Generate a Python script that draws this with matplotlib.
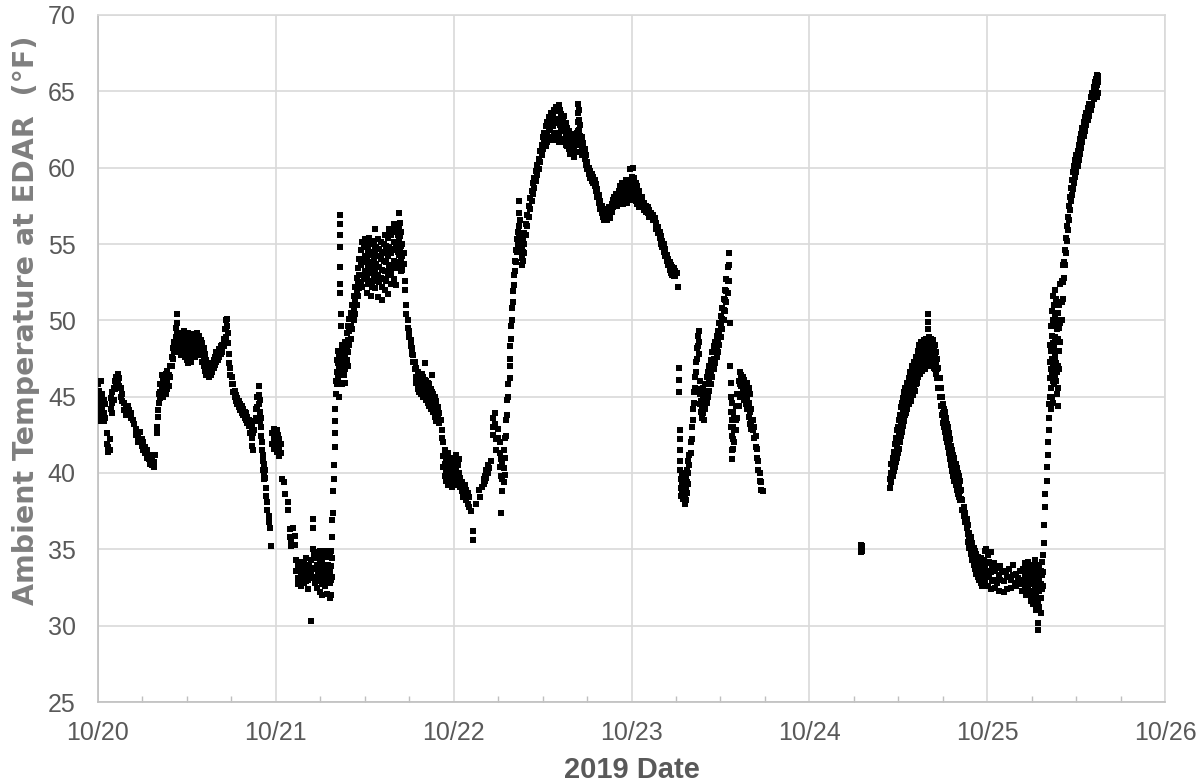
import matplotlib
matplotlib.use("Agg")
import matplotlib.pyplot as plt
from matplotlib.ticker import FixedLocator, MultipleLocator

# Each row: (days since 10/20 00:00, temperature readings in °F logged around that time)
oct20 = [
    (0.000, 45.8, 45.0, 44.2, 43.6), (0.008, 45.4, 44.6, 43.8, 43.4), (0.016, 46.0, 44.9, 44.0, 43.5),
    (0.024, 45.2, 44.3, 43.7), (0.032, 44.8, 43.9, 43.4), (0.040, 44.5, 43.6),
    (0.050, 42.6, 41.9), (0.058, 41.7, 41.4), (0.066, 42.2, 41.5),
    (0.072, 44.9, 44.2), (0.080, 45.3, 44.6, 43.9), (0.088, 45.6, 44.8), (0.096, 46.0, 45.5),
    (0.104, 46.3, 45.8), (0.112, 46.5, 46.0, 45.6), (0.120, 46.2, 45.7), (0.128, 45.6, 45.0),
    (0.136, 45.2, 44.7), (0.146, 44.6, 44.1), (0.156, 44.3, 43.8), (0.166, 44.4, 44.0),
    (0.176, 44.1), (0.186, 43.9, 43.6), (0.196, 43.5), (0.205, 43.2),
    (0.215, 42.9, 42.5), (0.225, 42.4, 42.0), (0.235, 42.7, 42.1), (0.245, 42.2, 41.8),
    (0.255, 42.0, 41.5), (0.265, 41.7, 41.3), (0.275, 41.5, 41.0), (0.285, 41.2, 40.9),
    (0.295, 41.0, 40.6), (0.305, 40.9, 40.5), (0.315, 40.7, 40.4), (0.322, 41.2),
    (0.330, 43.0, 42.6), (0.336, 44.1, 43.7), (0.342, 45.2, 44.6), (0.350, 45.8, 45.3, 44.9),
    (0.358, 46.4, 45.6, 45.1), (0.366, 46.2, 45.5, 45.0), (0.374, 46.0, 45.4),
    (0.382, 46.5, 45.8, 45.2), (0.390, 46.7, 46.0, 45.5), (0.398, 46.4, 45.7),
    (0.406, 47.0, 46.3), (0.414, 47.6, 47.0), (0.422, 48.2, 47.5), (0.430, 48.6, 48.0),
    (0.436, 49.5, 48.9), (0.443, 50.4, 49.8, 49.2, 48.6, 48.0), (0.450, 49.0, 48.4, 47.9),
    (0.458, 49.2, 48.6, 48.0), (0.466, 48.8, 48.2, 47.7), (0.474, 49.0, 48.5, 48.1),
    (0.482, 49.3, 48.7, 48.0), (0.490, 48.9, 48.3, 47.6), (0.498, 48.6, 48.0, 47.4),
    (0.506, 49.2, 48.5, 47.8, 47.2), (0.514, 49.0, 48.3, 47.5), (0.522, 48.7, 48.1, 47.3),
    (0.530, 48.9, 48.4, 47.8), (0.538, 49.1, 48.6, 48.0), (0.546, 48.8, 48.2, 47.6),
    (0.554, 49.2, 48.6, 48.0), (0.562, 48.9, 48.3, 47.7), (0.570, 49.0, 48.4, 47.9),
    (0.578, 48.7, 48.1), (0.586, 48.5, 47.9, 47.3), (0.594, 48.2, 47.6, 47.0),
    (0.602, 47.8, 47.2, 46.7), (0.610, 47.4, 46.8, 46.4), (0.618, 47.0, 46.5),
    (0.626, 46.8, 46.3), (0.634, 47.0, 46.4), (0.642, 47.2, 46.6), (0.650, 47.4, 46.9),
    (0.658, 47.6, 47.1), (0.666, 47.9, 47.3), (0.674, 47.8, 47.4), (0.682, 48.1, 47.6),
    (0.690, 48.3, 47.8), (0.698, 48.4, 47.9), (0.706, 48.8, 48.3), (0.714, 49.4, 48.8),
    (0.720, 50.0, 49.4, 48.9), (0.726, 50.1, 49.6), (0.732, 49.2, 48.5), (0.738, 47.8, 47.2),
    (0.744, 46.9, 46.4), (0.752, 46.3, 45.8), (0.760, 45.8, 45.3), (0.768, 45.4, 45.0),
    (0.776, 45.1, 44.7), (0.784, 44.9, 44.5), (0.792, 44.7, 44.3), (0.800, 44.5, 44.1),
    (0.808, 44.4, 43.9), (0.816, 44.2, 43.8), (0.824, 44.0, 43.6), (0.832, 43.9, 43.5),
    (0.840, 43.7, 43.3), (0.848, 43.5, 43.1), (0.856, 43.2, 42.6), (0.864, 43.0, 42.3, 41.8),
    (0.872, 42.6, 41.5), (0.880, 43.4, 42.8), (0.888, 44.2, 43.6), (0.896, 45.0, 44.3),
    (0.904, 45.7, 45.1, 44.5), (0.910, 44.8, 44.0, 43.4), (0.916, 43.6, 43.0, 42.4),
    (0.922, 42.0, 41.5), (0.928, 41.2, 40.8, 40.2), (0.934, 40.6, 40.0, 39.6),
    (0.940, 40.2, 39.7), (0.946, 39.0, 38.5), (0.952, 38.1, 37.6), (0.960, 37.2, 36.8),
    (0.968, 36.4), (0.975, 35.2), (0.980, 42.6, 41.9), (0.988, 42.9, 42.2, 41.6),
    (0.996, 42.4, 41.8),
]

oct21 = [
    (1.004, 42.8, 42.0, 41.4), (1.012, 42.5, 41.7), (1.020, 42.2, 41.5, 41.1), (1.028, 41.9, 41.3),
    (1.036, 39.6), (1.044, 39.4), (1.052, 38.6), (1.068, 38.1, 37.6), (1.078, 36.3, 35.8),
    (1.088, 35.5, 35.2), (1.098, 36.4), (1.106, 35.9, 35.3), (1.116, 34.3, 33.6),
    (1.124, 34.0, 33.1, 32.7), (1.132, 33.8, 33.0), (1.140, 34.2, 33.4, 32.6), (1.148, 33.6, 32.9),
    (1.156, 34.1, 33.3, 32.8), (1.164, 33.9, 33.2), (1.172, 34.4, 33.5, 32.9),
    (1.180, 33.7, 33.0, 32.4), (1.188, 34.0, 33.2), (1.196, 30.3), (1.200, 34.3, 33.4),
    (1.208, 37.0, 36.4, 35.0), (1.214, 34.6, 33.8, 33.1), (1.222, 34.4, 33.7, 32.8),
    (1.230, 34.8, 34.0, 33.2, 32.5), (1.238, 34.5, 33.6, 32.9), (1.246, 34.9, 34.1, 33.4, 32.2),
    (1.254, 34.6, 33.9, 33.0), (1.262, 34.3, 33.5, 32.7, 32.0), (1.270, 34.7, 33.8, 33.1),
    (1.278, 34.9, 34.0, 33.3, 32.6), (1.286, 34.5, 33.7, 32.9, 32.1), (1.294, 34.8, 34.0, 33.2),
    (1.302, 34.6, 33.6, 32.8, 31.8), (1.310, 34.9, 33.9, 33.0, 32.0),
    (1.316, 36.9, 35.8, 34.4, 33.2), (1.322, 38.8, 37.4), (1.326, 40.5, 39.6),
    (1.330, 42.6, 41.7), (1.334, 44.2, 43.4), (1.338, 46.0, 45.2), (1.343, 47.4, 46.6, 45.8),
    (1.350, 48.0, 47.2, 46.3), (1.356, 47.6, 46.8, 45.9, 45.0),
    (1.362, 56.9, 56.3, 55.6, 54.8, 53.5, 52.4, 51.8), (1.368, 50.4, 49.6, 47.8, 46.9),
    (1.374, 48.4, 47.6, 46.7, 45.8), (1.382, 48.1, 47.2, 46.4), (1.390, 48.6, 47.7, 46.8, 45.9),
    (1.398, 49.2, 48.3, 47.4), (1.406, 49.6, 48.7, 47.9, 47.0), (1.414, 50.1, 49.3, 48.4),
    (1.422, 50.5, 49.6, 48.8), (1.430, 51.0, 50.2, 49.4), (1.438, 51.6, 50.8, 50.0),
    (1.446, 52.2, 51.3, 50.4), (1.454, 52.8, 51.9, 51.0), (1.462, 53.4, 52.5, 51.6),
    (1.470, 54.0, 53.0, 52.1), (1.478, 54.6, 53.6, 52.5), (1.486, 55.1, 54.0, 53.0, 52.2),
    (1.494, 54.8, 53.8, 52.9), (1.502, 55.3, 54.2, 53.2), (1.510, 55.0, 53.9, 52.7, 51.8),
    (1.518, 54.6, 53.5, 52.4), (1.526, 55.4, 54.3, 53.1), (1.534, 55.0, 53.8, 52.6, 51.6),
    (1.542, 54.5, 53.4, 52.2), (1.550, 55.2, 54.1, 53.0), (1.558, 56.0, 54.6, 53.3, 52.1),
    (1.566, 54.8, 53.7, 52.6), (1.574, 55.3, 54.2, 53.0, 51.5), (1.582, 54.7, 53.5, 52.5),
    (1.590, 55.1, 54.0, 52.8), (1.598, 54.4, 53.3, 52.2, 51.3), (1.606, 55.0, 53.9, 52.7),
    (1.614, 55.6, 54.5, 53.2, 52.0), (1.622, 54.9, 53.8, 52.6), (1.630, 55.4, 54.2, 53.0, 51.7),
    (1.638, 56.0, 54.8, 53.5), (1.646, 55.6, 54.4, 53.1, 52.4), (1.654, 55.9, 54.7, 53.6),
    (1.662, 56.3, 55.1, 53.9, 52.7), (1.670, 55.8, 54.6, 53.4), (1.678, 56.2, 55.0, 53.8, 52.3),
    (1.686, 55.6, 54.5, 53.5), (1.694, 57.0, 56.1, 55.2, 54.3), (1.700, 56.4, 55.5, 54.6, 53.6),
    (1.706, 55.8, 54.9, 54.0, 53.2), (1.712, 55.0, 54.2, 53.3), (1.718, 54.4, 53.7),
    (1.726, 52.6, 52.0), (1.734, 51.0, 50.4), (1.742, 50.0, 49.5), (1.750, 49.3, 48.9),
    (1.758, 48.7, 48.3), (1.766, 48.2, 47.8), (1.774, 47.7, 47.3), (1.782, 47.3, 46.8),
    (1.790, 46.9, 46.3, 45.9), (1.798, 46.6, 46.0, 45.5), (1.806, 46.4, 45.8, 45.3),
    (1.814, 46.2, 45.7, 45.2), (1.822, 46.5, 45.9, 45.3), (1.830, 46.3, 45.6, 45.0),
    (1.838, 47.2, 46.1, 45.5), (1.846, 46.0, 45.4, 44.8), (1.854, 45.9, 45.2, 44.6),
    (1.862, 45.8, 45.1, 44.4), (1.870, 45.5, 44.8, 44.2), (1.878, 46.4, 45.3, 44.5),
    (1.886, 45.2, 44.6, 44.0), (1.894, 45.0, 44.3, 43.7), (1.902, 44.7, 44.0, 43.4),
    (1.910, 44.3, 43.7), (1.918, 43.9, 43.3), (1.926, 43.5), (1.934, 42.8, 42.3),
    (1.942, 42.0, 41.1, 40.4), (1.950, 41.5, 40.6, 39.8), (1.958, 40.9, 40.2, 39.5),
    (1.966, 41.3, 40.5, 39.8, 39.2), (1.974, 40.8, 40.0, 39.4), (1.982, 41.0, 40.3, 39.6),
    (1.990, 40.6, 39.9, 39.1), (1.998, 40.9, 40.2, 39.5),
]

oct22 = [
    (2.006, 40.8, 40.1, 39.4), (2.014, 41.2, 40.3, 39.7), (2.022, 40.5, 39.8, 39.2),
    (2.030, 40.9, 40.0, 39.3), (2.038, 39.7, 39.1), (2.046, 39.4, 38.8), (2.054, 39.0, 38.4),
    (2.062, 39.2, 38.6), (2.070, 38.9, 38.2), (2.078, 38.7, 38.0), (2.086, 38.4, 37.8),
    (2.096, 37.5), (2.110, 36.2, 35.6), (2.128, 38.0), (2.140, 38.9), (2.150, 38.4),
    (2.160, 39.1), (2.168, 39.6, 39.3), (2.176, 39.8, 39.5), (2.184, 40.2, 39.7),
    (2.192, 40.5, 40.0), (2.200, 40.3), (2.210, 40.8), (2.222, 43.6, 43.0, 42.5),
    (2.230, 43.9, 43.2), (2.240, 42.2, 41.5), (2.248, 42.9, 42.3), (2.258, 42.0, 41.3, 40.4),
    (2.266, 40.9, 39.8, 37.4), (2.274, 40.6, 39.6, 38.8), (2.282, 41.5, 40.3, 39.4),
    (2.290, 42.3, 41.0, 39.9), (2.296, 43.5, 42.4), (2.302, 44.8, 43.8), (2.308, 45.8, 45.0),
    (2.314, 47.0, 46.2), (2.319, 48.3, 47.5), (2.324, 49.6, 48.8), (2.329, 50.8, 50.0),
    (2.334, 51.9, 51.2), (2.339, 53.0, 52.3), (2.344, 53.9, 53.2), (2.350, 54.6, 53.8),
    (2.356, 55.3, 54.5), (2.362, 55.8, 55.0), (2.368, 57.8, 57.0, 56.2, 55.5),
    (2.374, 56.6, 55.6, 54.8), (2.382, 54.8, 54.1, 53.6), (2.390, 55.2, 54.5, 53.9),
    (2.398, 55.7, 55.0, 54.4), (2.406, 56.3, 55.6), (2.414, 56.9, 56.2), (2.422, 57.5, 56.8),
    (2.430, 58.0, 57.3), (2.438, 58.5, 57.8), (2.446, 59.0, 58.3), (2.454, 59.3, 58.7),
    (2.462, 59.8, 59.1), (2.470, 60.2, 59.5), (2.478, 60.6, 59.9), (2.486, 61.1, 60.4),
    (2.494, 61.5, 60.8), (2.502, 62.0, 61.2), (2.510, 62.3, 61.6), (2.518, 62.7, 62.0, 61.4),
    (2.526, 63.0, 62.3, 61.7), (2.534, 63.3, 62.6, 61.9), (2.542, 63.2, 62.5, 61.8),
    (2.550, 63.6, 62.8, 62.0), (2.558, 63.5, 62.7, 61.9), (2.566, 63.8, 62.9, 62.1),
    (2.574, 64.0, 63.2, 62.3, 61.8), (2.582, 63.7, 62.9, 62.0), (2.590, 64.1, 63.1, 62.2, 61.7),
    (2.598, 63.8, 62.8, 61.9), (2.606, 63.5, 62.6, 61.8), (2.614, 63.2, 62.4, 61.7),
    (2.622, 63.4, 62.5, 61.9), (2.630, 62.9, 62.2, 61.5), (2.638, 62.6, 62.0, 61.4),
    (2.646, 62.4, 61.8, 61.2), (2.654, 62.0, 61.5, 60.9), (2.662, 61.8, 61.2),
    (2.670, 62.2, 61.5, 60.9), (2.678, 61.9, 61.2, 60.7), (2.686, 61.6, 61.0),
    (2.694, 62.3, 61.7, 61.0), (2.700, 64.2, 63.6, 63.0, 62.4), (2.706, 63.8, 63.1, 62.5),
    (2.712, 62.8, 62.1, 61.5), (2.720, 62.0, 61.4, 60.8), (2.728, 61.6, 61.0),
    (2.736, 61.2, 60.6), (2.744, 60.8, 60.2), (2.752, 60.4, 59.9), (2.760, 60.0, 59.6),
    (2.768, 59.8, 59.3), (2.776, 59.6, 59.1), (2.784, 59.4, 59.0), (2.792, 59.2, 58.8),
    (2.800, 58.9, 58.5), (2.808, 58.6, 58.1), (2.816, 58.2, 57.7), (2.824, 57.8, 57.3),
    (2.832, 57.5, 57.0), (2.840, 57.2, 56.8), (2.848, 57.0, 56.6), (2.856, 57.3, 56.8),
    (2.864, 57.1, 56.6), (2.872, 57.4, 56.9), (2.880, 57.2, 56.7), (2.888, 57.6, 57.1),
    (2.896, 57.9, 57.4), (2.904, 58.1, 57.6), (2.912, 58.3, 57.8), (2.920, 58.0, 57.5),
    (2.928, 58.5, 58.0, 57.6), (2.936, 58.8, 58.2, 57.7), (2.944, 59.0, 58.4, 57.9),
    (2.952, 58.7, 58.1, 57.6), (2.960, 58.9, 58.3, 57.8), (2.968, 59.2, 58.6, 58.0),
    (2.976, 58.8, 58.2, 57.7), (2.984, 59.1, 58.5, 57.9), (2.992, 59.9, 59.0, 58.3),
]

oct23 = [
    (3.000, 59.4, 58.7, 58.1), (3.008, 60.0, 59.2, 58.5, 57.9), (3.016, 59.3, 58.6, 58.0),
    (3.024, 59.0, 58.4, 57.8), (3.032, 58.8, 58.2, 57.6), (3.040, 58.5, 57.9, 57.4),
    (3.050, 58.0, 57.5), (3.060, 58.1, 57.6), (3.070, 57.7, 57.2), (3.080, 57.5, 57.1),
    (3.090, 57.4, 57.0), (3.100, 57.2, 56.8), (3.110, 57.0), (3.120, 56.9, 56.6),
    (3.130, 56.7), (3.140, 56.4, 56.0), (3.150, 56.1, 55.7), (3.158, 55.8, 55.4),
    (3.166, 55.5, 55.0), (3.174, 55.2, 54.8), (3.182, 55.0, 54.5), (3.190, 54.7, 54.2),
    (3.198, 54.3, 53.9), (3.206, 54.0, 53.6), (3.214, 53.8, 53.3), (3.222, 53.6, 53.1),
    (3.230, 53.5, 53.0), (3.238, 53.4, 52.9), (3.246, 53.2, 52.9), (3.254, 53.1),
    (3.264, 52.2), (3.268, 46.9, 46.1, 45.3), (3.272, 42.8, 42.2, 41.5, 40.8, 40.2),
    (3.278, 39.6, 39.0, 38.5), (3.284, 40.0, 39.3, 38.7), (3.290, 39.5, 38.9, 38.3),
    (3.296, 39.8, 39.1, 38.4), (3.302, 39.2, 38.6, 38.0), (3.308, 39.6, 38.9, 38.2),
    (3.314, 40.2, 39.4, 38.7), (3.320, 40.8, 40.0, 39.3), (3.326, 41.2, 40.5),
    (3.332, 42.0, 41.3), (3.338, 43.0, 42.2), (3.344, 44.2, 43.5), (3.350, 45.3, 44.6),
    (3.356, 46.3, 45.6), (3.362, 47.3, 46.6), (3.368, 48.2, 47.5), (3.374, 49.0, 48.3),
    (3.380, 49.3, 48.6, 47.8), (3.386, 46.0, 45.2, 44.5), (3.392, 45.5, 44.7, 44.0),
    (3.398, 45.2, 44.4, 43.6), (3.404, 45.6, 44.8, 43.9), (3.410, 45.3, 44.5, 43.5),
    (3.416, 45.8, 45.0, 44.2), (3.422, 46.3, 45.4, 44.6), (3.430, 46.6, 45.8, 45.0),
    (3.438, 47.0, 46.2, 45.4), (3.446, 47.4, 46.6, 45.8), (3.454, 47.9, 47.1, 46.3),
    (3.462, 48.3, 47.5, 46.8), (3.470, 48.6, 47.9, 47.2), (3.478, 49.0, 48.3, 47.6),
    (3.486, 49.3, 48.6, 47.9), (3.494, 49.8, 49.1, 48.4), (3.502, 50.3, 49.6, 48.9),
    (3.510, 50.8, 50.1, 49.4), (3.518, 51.4, 50.7, 50.0), (3.526, 52.0, 51.3, 50.6),
    (3.534, 52.7, 51.9, 51.2), (3.542, 53.5, 52.6, 51.8), (3.548, 54.4, 53.6, 52.6),
    (3.554, 49.8, 47.0), (3.560, 45.9, 45.0, 44.0, 43.0), (3.566, 44.6, 43.5, 42.4, 41.5, 40.9),
    (3.572, 44.0, 43.0, 42.2, 41.6), (3.578, 43.6, 42.8, 42.0), (3.586, 44.4, 43.5, 42.8),
    (3.594, 45.2, 44.4, 43.6), (3.602, 46.0, 45.2, 44.4), (3.610, 46.6, 45.8, 45.0),
    (3.618, 46.4, 45.7, 45.1), (3.626, 46.3, 45.6, 45.0), (3.634, 46.1, 45.5, 44.8),
    (3.642, 45.8, 45.2, 44.5), (3.650, 45.9, 45.0, 44.2), (3.658, 45.6, 44.6, 43.7),
    (3.666, 45.2, 44.0, 43.2), (3.674, 44.2, 43.4, 42.9), (3.682, 43.5, 42.8),
    (3.690, 43.0, 42.3), (3.698, 42.4, 41.7), (3.706, 41.6, 41.0), (3.714, 40.8, 40.2),
    (3.722, 40.0, 39.5), (3.730, 39.4, 38.9), (3.738, 38.8),
]

oct24 = [
    (4.292, 35.3, 35.0, 34.8), (4.298, 35.2, 34.9),
    (4.456, 39.0, 39.6), (4.462, 40.6, 40.0, 39.4), (4.468, 41.0, 40.3, 39.8),
    (4.474, 41.4, 40.7, 40.1), (4.480, 41.9, 41.0, 40.4), (4.486, 42.3, 41.4, 40.7),
    (4.492, 42.8, 41.8, 41.0), (4.498, 43.0, 42.1, 41.3), (4.504, 43.5, 42.5, 41.6),
    (4.510, 43.8, 42.9, 42.0), (4.516, 44.3, 43.3, 42.4), (4.522, 44.6, 43.6, 42.7),
    (4.528, 44.9, 44.0, 43.1), (4.534, 45.3, 44.4, 43.4), (4.540, 45.6, 44.7, 43.8),
    (4.546, 45.4, 44.6, 43.9), (4.552, 45.9, 45.0, 44.2), (4.558, 46.2, 45.3, 44.5),
    (4.564, 46.6, 45.7, 44.8), (4.570, 46.4, 45.6, 44.7), (4.576, 47.0, 46.1, 45.2),
    (4.582, 46.8, 45.9, 45.1), (4.588, 47.3, 46.4, 45.5), (4.594, 47.1, 46.2, 45.4),
    (4.600, 47.6, 46.7, 45.8), (4.606, 47.4, 46.6, 45.9), (4.612, 48.0, 47.2, 46.3),
    (4.618, 48.4, 47.5, 46.6), (4.624, 48.2, 47.3, 46.5), (4.630, 48.6, 47.7, 46.9),
    (4.636, 48.3, 47.5, 46.7), (4.642, 48.7, 47.9, 47.0), (4.648, 48.4, 47.6, 46.8),
    (4.654, 48.8, 48.0, 47.2), (4.660, 48.5, 47.7, 47.0), (4.666, 50.4, 49.9, 49.4, 48.7, 47.8),
    (4.672, 48.9, 48.1, 47.4), (4.678, 48.6, 47.9, 47.1), (4.684, 48.8, 48.1, 47.3),
    (4.690, 48.5, 47.8, 47.0), (4.696, 48.7, 47.9, 47.2), (4.702, 48.3, 47.6, 46.9),
    (4.708, 48.4, 47.6, 46.8), (4.714, 47.9, 47.2, 46.5), (4.720, 47.5, 46.8, 46.2),
    (4.726, 46.9, 46.2, 45.6), (4.732, 46.2, 45.6, 45.0), (4.738, 45.6, 45.0, 44.4),
    (4.744, 45.0, 44.4, 43.8), (4.750, 44.5, 43.9, 43.3), (4.756, 44.2, 43.6, 43.0),
    (4.762, 44.0, 43.3, 42.7), (4.768, 43.6, 42.9, 42.3), (4.774, 43.2, 42.6, 42.0),
    (4.780, 43.0, 42.3, 41.7), (4.786, 42.6, 41.9, 41.3), (4.792, 42.2, 41.5, 40.9),
    (4.798, 41.8, 41.1, 40.5), (4.804, 41.5, 40.8, 40.1), (4.810, 41.2, 40.5, 39.8),
    (4.816, 41.0, 40.2, 39.5), (4.822, 40.6, 39.9, 39.2), (4.828, 40.3, 39.6, 38.9),
    (4.834, 40.0, 39.3, 38.6), (4.840, 39.8, 39.1, 38.4), (4.846, 39.5, 38.8, 38.2),
    (4.852, 38.9, 38.3), (4.860, 38.2, 37.6), (4.868, 37.8, 37.2), (4.876, 37.4, 36.8),
    (4.884, 37.0, 36.4), (4.892, 36.6, 36.0, 35.5), (4.900, 36.1, 35.6, 35.1),
    (4.908, 35.8, 35.2, 34.7), (4.916, 35.4, 34.9, 34.3), (4.924, 35.1, 34.5, 34.0),
    (4.932, 34.9, 34.2, 33.7), (4.940, 34.7, 34.0, 33.4), (4.948, 34.5, 33.8, 33.2),
    (4.956, 34.2, 33.6, 33.0), (4.964, 34.4, 33.7, 32.8), (4.972, 34.0, 33.4, 32.6),
    (4.980, 34.3, 33.5, 32.7), (4.988, 34.9, 33.8, 33.0), (4.996, 35.0, 34.1, 33.3),
]

oct25 = [
    (5.004, 34.6, 33.6, 32.6), (5.012, 34.2, 33.2), (5.020, 34.8, 33.5, 32.4), (5.028, 33.9, 32.9),
    (5.036, 34.1, 33.0), (5.044, 33.6, 32.5), (5.054, 33.8, 32.8), (5.064, 33.3, 32.3),
    (5.074, 33.9, 33.0), (5.084, 33.5), (5.094, 32.9, 32.2), (5.104, 33.6), (5.114, 33.2, 32.4),
    (5.124, 33.7), (5.134, 33.0, 32.5), (5.144, 34.0, 33.3), (5.154, 32.8), (5.164, 33.4, 32.6),
    (5.174, 33.1), (5.184, 33.6, 32.7), (5.194, 32.9, 32.3), (5.204, 33.7, 33.0),
    (5.212, 34.1, 33.2, 32.4), (5.220, 33.6, 32.8, 32.0), (5.228, 34.2, 33.4, 32.5),
    (5.236, 33.8, 32.9, 32.1), (5.244, 34.0, 33.1, 32.3, 31.6), (5.252, 33.5, 32.7, 31.8),
    (5.260, 33.9, 33.0, 32.2, 31.4), (5.268, 34.3, 33.3, 32.4, 31.5), (5.276, 33.7, 32.8, 31.9, 31.0),
    (5.284, 33.4, 32.5, 31.4, 30.2, 29.7), (5.292, 34.0, 33.1, 32.3, 31.2),
    (5.300, 33.6, 32.7, 31.8, 30.8), (5.308, 34.2, 33.3, 32.4), (5.316, 34.6, 33.5, 32.6),
    (5.322, 35.4, 36.6), (5.328, 37.8, 38.6), (5.334, 39.5, 40.4), (5.340, 41.2, 42.0),
    (5.346, 42.8, 43.6, 44.5), (5.352, 45.0, 46.2, 47.3, 48.4), (5.358, 44.2, 45.6, 46.8, 48.0, 49.6),
    (5.364, 45.0, 46.4, 47.5, 49.0, 50.6), (5.370, 44.6, 46.0, 47.2, 48.5, 50.0, 51.6),
    (5.376, 45.8, 47.0, 48.4, 49.8, 51.0), (5.382, 46.4, 47.6, 48.9, 50.2, 52.0),
    (5.388, 46.0, 47.2, 48.6, 50.0, 51.4), (5.394, 45.2, 46.6, 48.0, 49.4),
    (5.400, 44.4, 45.6, 47.0, 48.8, 50.5), (5.406, 46.8, 48.0, 49.5, 51.0),
    (5.412, 48.6, 49.8, 51.2, 52.4), (5.418, 50.0, 51.2, 52.6), (5.424, 51.4, 52.5, 53.6),
    (5.430, 52.8, 53.8), (5.436, 53.6, 54.6), (5.442, 54.4, 55.4), (5.448, 55.2, 56.2),
    (5.454, 55.9, 56.8), (5.460, 56.6, 57.5), (5.466, 57.2, 58.1), (5.472, 57.8, 58.7),
    (5.478, 58.2, 59.2), (5.484, 58.6, 59.7), (5.490, 59.0, 60.1), (5.496, 59.4, 60.5),
    (5.502, 59.7, 60.8), (5.508, 60.1, 61.1), (5.514, 60.5, 61.5), (5.520, 60.9, 61.9),
    (5.526, 61.3, 62.2), (5.534, 61.7, 62.6), (5.542, 62.1, 63.0), (5.550, 62.4, 63.3),
    (5.558, 62.8, 63.6), (5.566, 63.1, 63.9), (5.574, 63.4, 64.2), (5.582, 63.8, 64.6),
    (5.590, 64.1, 64.9), (5.598, 64.5, 65.3), (5.606, 64.8, 65.6), (5.614, 65.0, 65.8),
    (5.620, 64.6, 65.4, 66.1), (5.626, 64.9, 65.6, 66.0),
]

date_labels = ["10/20", "10/21", "10/22", "10/23", "10/24", "10/25", "10/26"]
temp_ticks = [25, 30, 35, 40, 45, 50, 55, 60, 65, 70]


def flatten(rows):
    xs, ys = [], []
    for t, *readings in rows:
        xs.extend([t] * len(readings))
        ys.extend(readings)
    return xs, ys


fig = plt.figure(figsize=(12.03, 7.84), dpi=100)
ax = fig.add_axes([98 / 1203, 82 / 784, 1067 / 1203, 687 / 784])

for day_rows in (oct20, oct21, oct22, oct23, oct24, oct25):
    xs, ys = flatten(day_rows)
    ax.scatter(xs, ys, s=16, marker="s", color="black", linewidths=0, zorder=3)

ax.set_xlim(0, len(date_labels) - 1)
ax.set_ylim(temp_ticks[0], temp_ticks[-1])

ax.xaxis.set_major_locator(FixedLocator(range(len(date_labels))))
ax.set_xticklabels(date_labels)
ax.xaxis.set_minor_locator(MultipleLocator(0.25))
ax.yaxis.set_major_locator(FixedLocator(temp_ticks))

for lbl in ax.get_xticklabels() + ax.get_yticklabels():
    lbl.set_fontfamily("Liberation Sans")
    lbl.set_fontsize(18)
    lbl.set_color("#595959")

ax.tick_params(axis="x", which="major", length=0, pad=14)
ax.tick_params(axis="y", which="major", length=0, pad=16)
ax.tick_params(axis="x", which="minor", direction="in", length=4.5, width=1, color="#BFBFBF")
ax.tick_params(axis="y", which="minor", length=0)

ax.grid(True, which="major", color="#D9D9D9", linewidth=1.2, zorder=0)
ax.set_axisbelow(True)
for side in ("left", "bottom"):
    ax.spines[side].set_color("#BFBFBF")
    ax.spines[side].set_linewidth(1.2)
for side in ("top", "right"):
    ax.spines[side].set_color("#D9D9D9")
    ax.spines[side].set_linewidth(1.2)

ax.set_xlabel("2019 Date", fontfamily="Liberation Sans", fontweight="bold",
              fontsize=21, color="#595959")
ax.xaxis.set_label_coords(0.5, -0.078)
ax.set_ylabel("Ambient Temperature at EDAR  (°F)", fontfamily="DejaVu Sans",
              fontweight="bold", fontsize=20.5, color="#7F7F7F")
ax.yaxis.set_label_coords(-0.054, 0.555)

fig.savefig("out.png", dpi=100)
